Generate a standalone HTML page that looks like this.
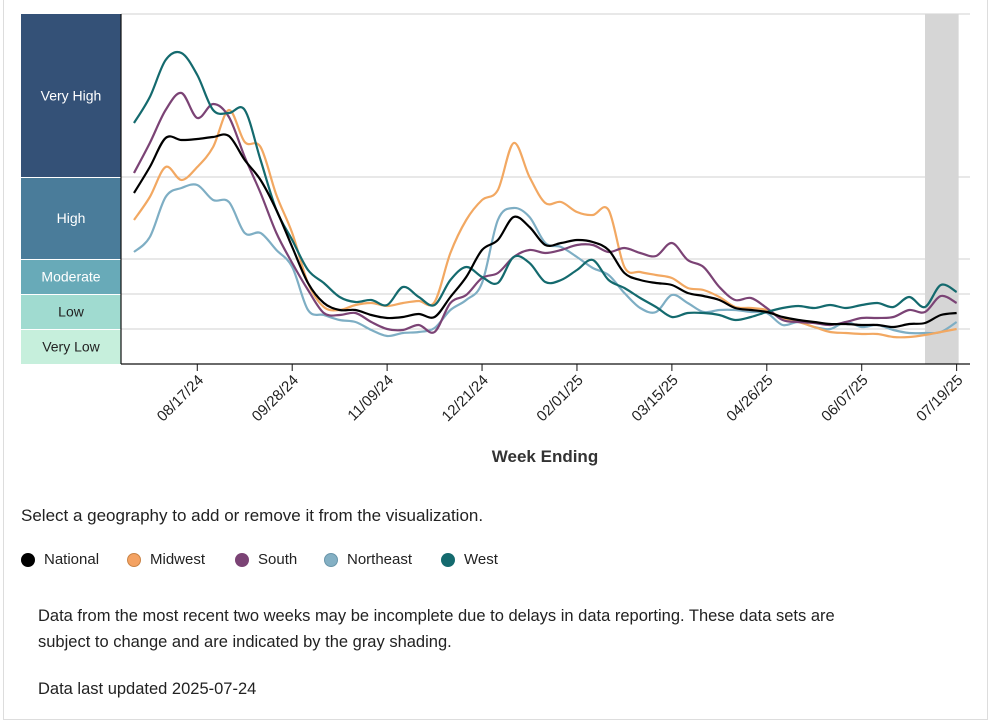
<!DOCTYPE html>
<html><head><meta charset="utf-8"><style>
html,body{margin:0;padding:0;background:#fff;}
body{width:995px;height:704px;overflow:hidden;position:relative;font-family:"Liberation Sans",sans-serif;color:#222;}
.frame{position:absolute;left:3px;top:-2px;width:983px;height:720px;border:1px solid #ddd;}
.t{position:absolute;font-size:16px;color:#222;}
.leg{position:absolute;top:551px;font-size:15px;display:flex;align-items:center;}
.dot{width:14px;height:14px;border-radius:50%;margin-right:9px;box-sizing:border-box;}
</style></head><body>
<div class="frame"></div>
<svg id="chart" width="995" height="480" style="position:absolute;left:0;top:0"></svg>
<div class="t" style="left:21px;top:506px;font-size:17px">Select a geography to add or remove it from the visualization.</div>
<div class="leg" style="left:21px"><div class="dot" style="background:#000"></div>National</div>
<div class="leg" style="left:127px"><div class="dot" style="background:#f4a262;border:1px solid #c98345"></div>Midwest</div>
<div class="leg" style="left:235px"><div class="dot" style="background:#7b4375"></div>South</div>
<div class="leg" style="left:324px"><div class="dot" style="background:#84b0c4;border:1px solid #6a96aa"></div>Northeast</div>
<div class="leg" style="left:441px"><div class="dot" style="background:#146a6e"></div>West</div>
<div class="t" style="left:38px;top:603px;width:840px;line-height:26px;font-size:16.5px">Data from the most recent two weeks may be incomplete due to delays in data reporting. These data sets are subject to change and are indicated by the gray shading.</div>
<div class="t" style="left:38px;top:680px;font-size:16.5px">Data last updated 2025-07-24</div>
<script>
const tickLabels=["08/17/24","09/28/24","11/09/24","12/21/24","02/01/25","03/15/25","04/26/25","06/07/25","07/19/25"];
const tickWeeks=[4,10,16,22,28,34,40,46,52];
const levelNames=["Very Low","Low","Moderate","High","Very High"];
const levelBounds=[0,35,70,105,187,350];
const national=[171,197,226,224,225,227,228,204,184,154,117,81,61,54,54,49,46,47,50,47,67,87,114,124,147,137,119,121,124,122,114,91,84,81,79,71,68,64,56,54,52,47,44,42,40,40,39,39,37,40,41,49,51];
const midwest=[144,167,197,184,197,217,254,222,217,169,131,81,57,54,59,61,58,61,63,62,111,144,164,174,221,187,161,162,152,149,154,97,92,89,86,76,74,67,57,56,54,46,42,37,32,31,30,30,27,27,29,32,35];
const south=[191,221,254,271,246,260,247,207,171,131,101,74,51,49,51,42,35,34,39,32,61,69,86,91,107,114,111,114,119,119,112,116,111,108,121,104,97,77,64,66,56,44,42,41,39,42,46,46,47,54,52,68,61];
const northeast=[112,127,167,176,179,164,162,131,131,114,97,54,49,44,42,34,28,31,32,36,54,64,81,144,156,147,121,117,107,96,89,71,56,52,69,61,52,54,54,52,51,39,42,37,35,42,37,39,34,31,31,32,42];
const west=[241,267,304,311,289,254,251,254,204,154,124,94,81,67,62,64,59,77,67,59,84,97,87,81,107,101,82,84,94,104,84,76,66,57,47,51,51,49,44,47,52,56,58,56,59,56,59,61,57,67,57,79,72];
const incompleteWeeks=2;

const NS="http://www.w3.org/2000/svg";
const svg=document.getElementById('chart');
const X0=134,DX=15.82,YB=364,YT=14,PL=121,PR=970;
const xs=i=>X0+i*DX;
const ys=v=>YB-(v/350)*(YB-YT);
function mk(t,a,p){const e=document.createElementNS(NS,t);for(const k in a)e.setAttribute(k,a[k]);(p||svg).appendChild(e);return e;}
const bandColors=["#c6efdc","#a0dbd0","#68aab8","#4a7c9a","#345177"];
const bandText=["#222","#222","#fff","#fff","#fff"];
for(let b=0;b<5;b++){
  const y1=ys(levelBounds[b+1]),y0=ys(levelBounds[b]);
  const r=mk('rect',{x:21,y:y1+(b<4?1:0),width:100,height:y0-y1-(b<4?1:0),fill:bandColors[b]});
  
  
  const t=mk('text',{x:71,y:(y0+y1)/2+5,'text-anchor':'middle','font-size':14,fill:bandText[b]});
  t.textContent=levelNames[b];
  
  
  const g=mk('line',{x1:PL,x2:PR,y1:y1,y2:y1,stroke:'#d0d0d0','stroke-width':1});
  
  
}
const sh=mk('rect',{x:xs(52-incompleteWeeks),y:YT,width:xs(52)-xs(52-incompleteWeeks)+2,height:YB-YT,fill:'#d6d6d6'});


mk('line',{x1:PL,x2:PL,y1:YT,y2:YB,stroke:'#111','stroke-width':1.2});
const ax=mk('line',{x1:PL,x2:PR,y1:YB,y2:YB,stroke:'#111','stroke-width':1.2});


tickWeeks.forEach((w,k)=>{
  const x=xs(w);
  mk('line',{x1:x,x2:x,y1:YB,y2:YB+7,stroke:'#111'});
  const t=mk('text',{x:x+7,y:YB+17,'text-anchor':'end','font-size':15,fill:'#222',transform:`rotate(-45 ${x+7} ${YB+17})`});
  t.textContent=tickLabels[k];
  
  
});
const xt=mk('text',{x:545,y:462,'text-anchor':'middle','font-size':17,'font-weight':'bold',fill:'#333'});
xt.textContent='Week Ending';


function path(vals){
  const p=vals.map((v,i)=>[xs(i),ys(v)]);
  let d=`M${p[0][0]},${p[0][1]}`;
  for(let i=0;i<p.length-1;i++){
    const a=p[Math.max(0,i-1)],b=p[i],c=p[i+1],e=p[Math.min(p.length-1,i+2)];
    d+=` C${b[0]+(c[0]-a[0])/6},${b[1]+(c[1]-a[1])/6} ${c[0]-(e[0]-b[0])/6},${c[1]-(e[1]-b[1])/6} ${c[0]},${c[1]}`;
  }
  return d;
}
const series=[[northeast,'#7eaec4','line-northeast'],[midwest,'#f2a862','line-midwest'],[south,'#7b4375','line-south'],[west,'#146a6e','line-west'],[national,'#000','line-national']];
series.forEach(s=>{
  const el=mk('path',{d:path(s[0]),fill:'none',stroke:s[1],'stroke-width':2.2});
  
  
});
</script>
</body></html>
